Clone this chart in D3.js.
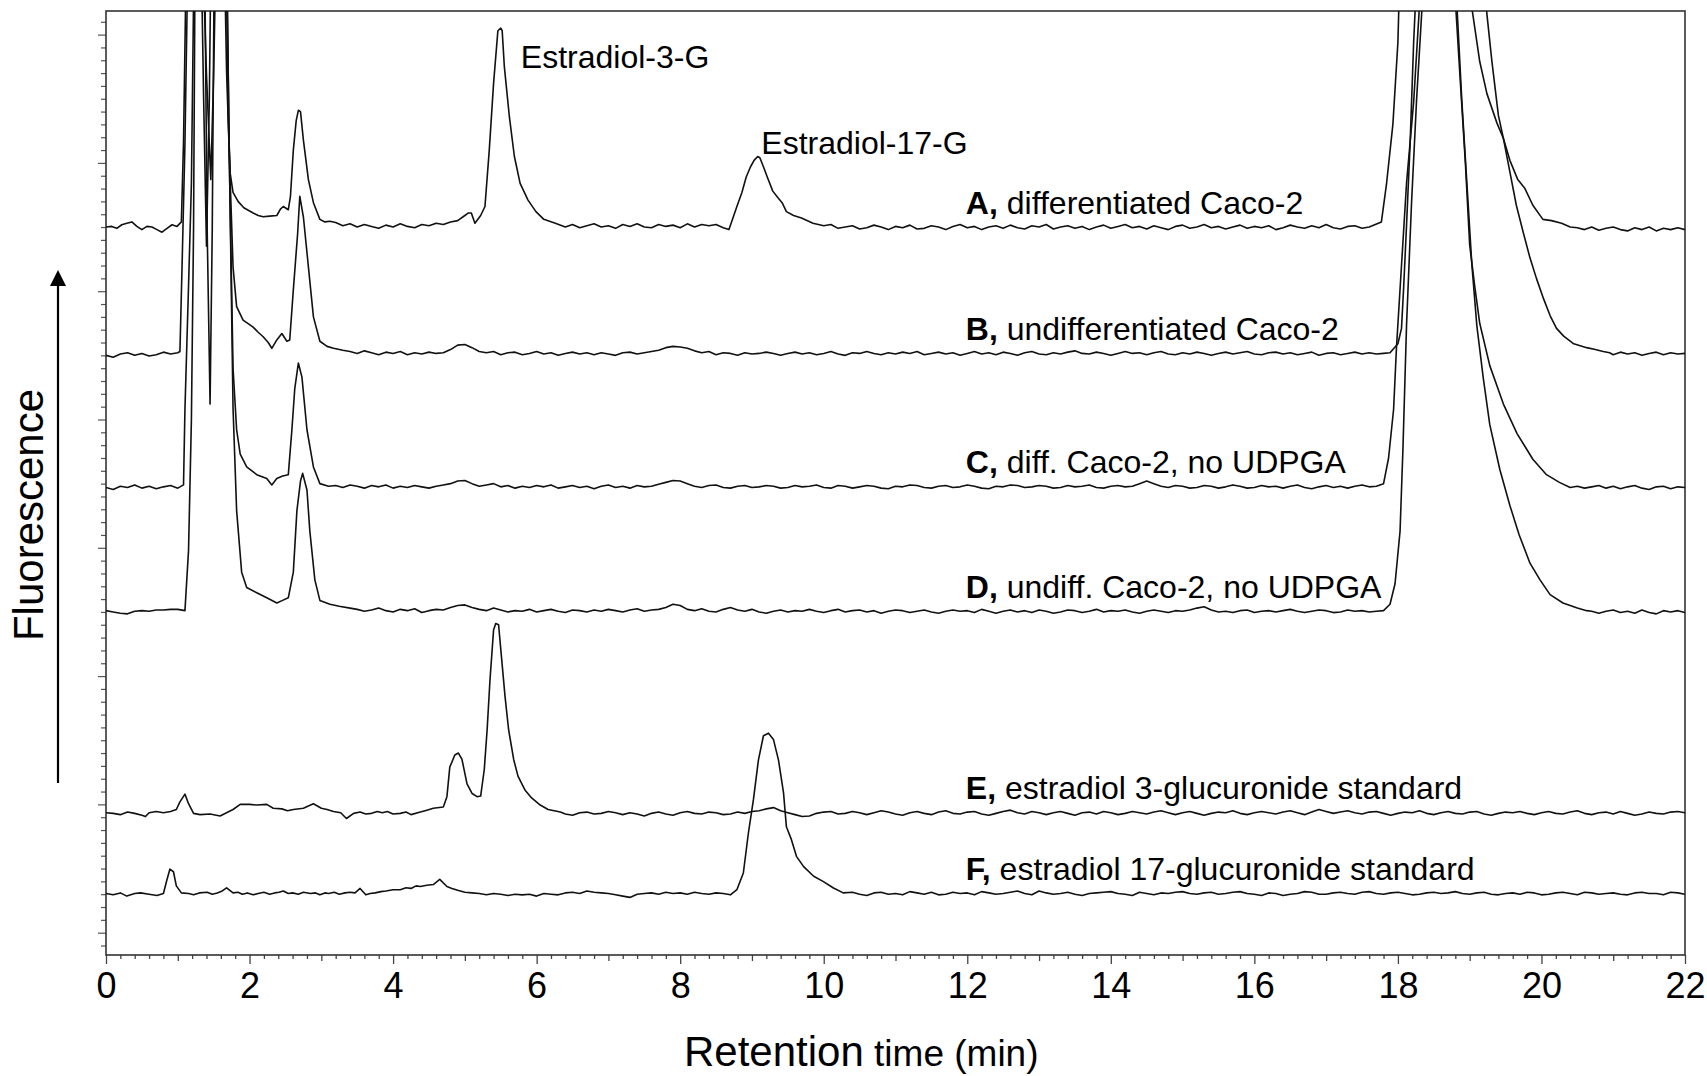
<!DOCTYPE html>
<html>
<head>
<meta charset="utf-8">
<script src="https://cdn.jsdelivr.net/npm/d3@7"></script>
<style>
  html, body { margin: 0; padding: 0; background: #fff; }
  svg { display: block; }
  text { font-family: "Liberation Sans", Arial, sans-serif; fill: #000; }
</style>
</head>
<body>
<div id="chart"></div>
<script>
// retention time (min), signal above the trace's own baseline (arbitrary fluorescence units)
const traceA = [[0,0.1],[0.08,0.15],[0.15,0],[0.22,0.28],[0.29,0.4],[0.36,0.5],[0.43,0.15],[0.5,-0.1],[0.57,0.15],[0.64,0.1],[0.71,-0.1],[0.78,-0.3],[0.85,0],[0.92,0.28],[0.99,0.15],[1.05,0.5],
  [1.08,6.7],[1.11,18],[1.15,30],[1.3,30],[1.4,12],[1.46,3.8],[1.5,12],[1.56,30],[1.66,30],[1.7,9],[1.73,4.3],[1.77,2.8],[1.84,2.1],[1.92,1.6],[2.05,1.2],[2.12,1.0],[2.19,0.9],[2.28,0.95],[2.38,1.0],[2.43,1.5],[2.47,1.7],[2.54,1.45],[2.57,2.5],[2.61,6.1],[2.65,8.4],[2.68,9.2],[2.71,9.1],[2.75,6.9],[2.82,3.8],[2.89,2.0],[2.98,0.7],[3.05,0.5],[3.12,0.55],
  [3.2,0.45],[3.3,0.2],[3.4,0.35],[3.5,0.1],[3.6,0.3],[3.7,0.15],[3.8,0],[3.9,0.25],[4.0,0.1],[4.1,0.35],[4.2,0.15],[4.3,0.05],[4.4,0.3],[4.5,0.2],[4.6,0.4],[4.7,0.3],[4.8,0.5],[4.9,0.6],
  [5.0,1.0],[5.05,1.2],[5.09,1.2],[5.14,0.4],[5.22,1.0],[5.28,1.7],[5.34,6.1],[5.4,11.3],[5.46,15.4],[5.5,15.6],[5.52,15.4],[5.55,12.6],[5.62,8.7],[5.69,5.6],[5.77,3.5],[5.88,2.2],[5.99,1.3],[6.1,0.7],[6.26,0.4],
  [6.4,0.1],[6.5,0.3],[6.6,0.05],[6.7,0.2],[6.8,0.35],[6.9,0.1],[7.0,0.2],[7.1,0],[7.2,0.3],[7.3,0.15],[7.4,0.35],[7.5,0.1],[7.6,0.05],[7.7,0.3],[7.8,0.15],[7.9,0.25],[8.0,0.05],[8.1,0.35],[8.2,0.1],[8.3,0.3],[8.4,0.2],[8.5,0.3],[8.6,0.05],[8.68,-0.1],
  [8.79,1.7],[8.86,2.8],[8.92,4.0],[8.98,4.8],[9.03,5.3],[9.08,5.6],[9.11,5.5],[9.16,4.8],[9.22,3.9],[9.29,2.9],[9.36,2.4],[9.42,2.0],[9.48,1.3],[9.58,1.0],[9.69,0.8],[9.85,0.4],[10.0,0.2],[10.1,0.3],[10.2,0],
  [10.3,0.1],[10.4,0.2],[10.5,-0.05],[10.6,0.05],[10.7,0.25],[10.8,0.1],[10.9,-0.1],[11.0,0.15],[11.1,0.05],[11.2,0.25],[11.3,-0.05],[11.4,0],[11.5,0.2],[11.6,0.1],[11.7,-0.1],[11.8,0.15],[11.9,0.3],[12.0,0.05],[12.1,0.15],[12.2,-0.1],[12.3,0.1],[12.4,0.2],[12.5,0],[12.6,0.25],[12.7,0.05],[12.8,-0.05],[12.9,0.2],[13.0,0.1],[13.1,0.3],[13.2,-0.05],[13.3,0.1],[13.4,0.2],[13.5,0],[13.6,0.15],[13.7,-0.1],[13.8,0.1],[13.9,0.25],[14.0,0],[14.1,0.15],[14.2,0.3],[14.3,0.05],[14.4,0.15],[14.5,-0.05],[14.6,0.2],[14.7,0.05],[14.8,-0.1],[14.9,0.15],[15.0,0.25],[15.1,0],[15.2,0.1],[15.3,0.3],[15.4,0.05],[15.5,0.15],[15.6,-0.05],[15.7,0.1],[15.8,0.25],[15.9,0],[16.0,0.15],[16.1,0.05],[16.2,0.2],[16.3,-0.1],[16.4,0.05],[16.5,0.25],[16.6,0.1],[16.7,0],[16.8,0.2],[16.9,0.05],[17.0,0.3],[17.1,0.05],[17.2,-0.05],[17.3,0.15],[17.4,0.2],[17.5,0],[17.6,0.1],
  [17.77,0.5],[17.84,3.4],[17.93,8.1],[18.0,14.5],[18.05,25],[18.1,30],[18.9,30],[19.0,19],[19.03,17.2],[19.14,13.0],[19.24,10.5],[19.38,8.2],[19.47,7.0],[19.56,5.3],[19.67,3.8],[19.77,3.1],[19.88,1.8],[20.02,0.7],[20.14,0.6],[20.28,0.4],[20.4,0.1],
  [20.5,0.05],[20.6,-0.1],[20.7,0.1],[20.8,-0.15],[20.9,0],[21.0,0.1],[21.1,-0.1],[21.2,-0.2],[21.3,0.05],[21.4,-0.1],[21.5,0.1],[21.6,-0.2],[21.7,0],[21.8,-0.1],[21.9,0.05],[22.0,-0.1]];

const traceB = [[0,-0.1],[0.1,-0.25],[0.2,0],[0.3,0.1],[0.4,-0.1],[0.5,0.05],[0.6,-0.15],[0.7,-0.05],[0.8,0.15],[0.9,0],[1.0,0.1],[1.03,0.2],
  [1.06,6.9],[1.1,16.4],[1.13,27],[1.16,40],[1.3,40],[1.36,20],[1.4,8.4],[1.44,20],[1.48,40],[1.62,40],[1.68,22],[1.73,13.6],[1.77,6.8],[1.82,3.7],[1.91,2.65],[2.05,2.1],[2.12,1.7],[2.19,1.35],[2.26,0.9],[2.31,0.45],[2.38,1.1],[2.45,1.6],[2.52,1.0],[2.56,1.1],[2.61,5.0],[2.67,9.4],[2.7,12.3],[2.75,10.7],[2.82,6.8],[2.89,2.9],[2.98,1.0],[3.08,0.6],[3.17,0.45],[3.3,0.3],
  [3.4,0.2],[3.5,0.05],[3.6,0.25],[3.7,0.1],[3.8,-0.05],[3.9,0.15],[4.0,0.05],[4.1,0.2],[4.2,-0.05],[4.3,0.1],[4.4,0],[4.5,0.15],[4.6,0.05],[4.7,0.1],[4.8,0.35],[4.9,0.7],[5.0,0.75],[5.1,0.5],[5.2,0.2],[5.3,0.1],[5.4,0.2],[5.5,-0.05],[5.6,0.1],[5.7,0.15],[5.8,-0.05],[5.9,0.05],[6.0,0.2],[6.1,0],[6.2,0.1],[6.3,-0.1],[6.4,0.05],[6.5,0.15],[6.6,0],[6.7,0.1],[6.8,-0.05],[6.9,0.1],[7.0,0],[7.1,-0.1],[7.2,0.1],[7.3,0.15],[7.4,0],[7.5,0.1],[7.6,0.2],[7.7,0.3],[7.8,0.5],[7.9,0.6],[8.0,0.55],[8.1,0.45],[8.2,0.25],[8.3,0.1],[8.4,0.2],[8.5,-0.05],[8.6,0.1],[8.7,0.05],[8.8,-0.1],[8.9,0.1],[9.0,0],[9.1,0.05],[9.2,0.15],[9.3,0.05],[9.4,-0.1],[9.5,0.05],[9.6,0.15],[9.7,0],[9.8,0.1],[9.9,-0.05],
  [10.0,0.05],[10.1,0.2],[10.2,0],[10.3,-0.1],[10.4,0.1],[10.5,0.05],[10.6,0.2],[10.7,0.05],[10.8,-0.05],[10.9,0.1],[11.0,0],[11.1,0.15],[11.2,0.05],[11.3,0.2],[11.4,-0.05],[11.5,0.05],[11.6,0.15],[11.7,0],[11.8,0.1],[11.9,-0.1],[12.0,0.05],[12.1,0.2],[12.2,0],[12.3,0.1],[12.4,-0.05],[12.5,0.15],[12.6,0.05],[12.7,-0.1],[12.8,0.1],[12.9,0.2],[13.0,0],[13.1,-0.05],[13.2,0.1],[13.3,0],[13.4,0.15],[13.5,0.25],[13.6,0.05],[13.7,0],[13.8,0.15],[13.9,0.05],[14.0,-0.1],[14.1,0.05],[14.2,0.2],[14.3,0.05],[14.4,0.1],[14.5,-0.05],[14.6,0.1],[14.7,0.2],[14.8,0],[14.9,-0.05],[15.0,0.1],[15.1,0],[15.2,0.15],[15.3,0.05],[15.4,-0.1],[15.5,0.05],[15.6,0.15],[15.7,0],[15.8,0.1],[15.9,0.2],[16.0,0],[16.1,-0.05],[16.2,0.1],[16.3,0.15],[16.4,0],[16.5,0.1],[16.6,-0.05],[16.7,0.05],[16.8,0.15],[16.9,-0.1],[17.0,0.05],[17.1,0.1],[17.2,-0.05],[17.3,0.05],[17.4,0.15],[17.5,0],[17.6,0.1],[17.7,0],[17.8,0.05],[17.89,0.1],
  [18.0,0.8],[18.05,2.0],[18.08,5.2],[18.12,10.0],[18.17,16.4],[18.22,24.4],[18.25,28],[18.3,40],[19.1,40],[19.2,29],[19.24,26.5],[19.31,22.8],[19.4,18.6],[19.47,16.8],[19.56,14.2],[19.65,11.6],[19.75,9.4],[19.84,7.5],[19.93,5.9],[20.03,4.3],[20.12,3.0],[20.21,2.0],[20.31,1.4],[20.45,0.8],[20.63,0.5],[20.75,0.35],[20.86,0.2],
  [20.95,0.1],[21.0,-0.05],[21.1,0.15],[21.2,0],[21.3,0.1],[21.4,-0.1],[21.5,0.05],[21.6,0.15],[21.7,-0.05],[21.8,0.1],[21.9,0],[22.0,0.05]];

const traceC = [[0,0],[0.1,-0.15],[0.2,0.1],[0.3,0],[0.4,0.2],[0.5,-0.05],[0.6,0.1],[0.7,-0.1],[0.8,0.05],[0.9,0.15],[1.0,-0.05],[1.08,0.2],
  [1.1,6.1],[1.15,15.7],[1.19,23.7],[1.22,38],[1.25,50],[1.36,50],[1.41,20],[1.45,6.5],[1.48,20],[1.52,50],[1.66,50],[1.72,25],[1.77,9.3],[1.82,4.5],[1.87,2.6],[1.96,1.6],[2.1,1.0],[2.24,0.7],[2.31,0.2],[2.38,0.7],[2.46,0.9],[2.54,1.0],[2.59,4.5],[2.63,7.7],[2.68,9.7],[2.73,8.6],[2.8,4.5],[2.89,1.6],[2.98,0.3],[3.1,0.1],
  [3.2,0.15],[3.3,0],[3.4,0.2],[3.5,0.1],[3.6,-0.05],[3.7,0.15],[3.8,0.05],[3.9,0.2],[4.0,-0.05],[4.1,0.1],[4.2,0],[4.3,0.15],[4.4,0.05],[4.5,-0.05],[4.6,0.1],[4.7,0.2],[4.8,0.3],[4.9,0.5],[5.0,0.55],[5.1,0.3],[5.2,0.1],[5.3,0.2],[5.4,0.3],[5.5,0.05],[5.6,0.15],[5.7,-0.05],[5.8,0.1],[5.9,0],[6.0,0.15],[6.1,0.05],[6.2,0.2],[6.3,-0.05],[6.4,0.05],[6.5,0.15],[6.6,0],[6.7,0.1],[6.8,-0.1],[6.9,0.1],[7.0,0.2],[7.1,0],[7.2,0.1],[7.3,-0.05],[7.4,0.15],[7.5,0.05],[7.6,0.1],[7.7,0.25],[7.8,0.4],[7.9,0.55],[8.0,0.5],[8.1,0.3],[8.2,0.1],[8.3,0],[8.4,0.15],[8.5,0.2],[8.6,0],[8.7,-0.05],[8.8,0.1],[8.9,0.15],[9.0,0],[9.1,0.05],[9.2,0.15],[9.3,0.1],[9.4,-0.05],[9.5,0],[9.6,0.15],[9.7,0.05],[9.8,0.1],[9.9,0.2],
  [10.0,0],[10.1,-0.05],[10.2,0.15],[10.3,0.1],[10.4,-0.05],[10.5,0.05],[10.6,0.15],[10.7,0.1],[10.8,-0.05],[10.9,-0.1],[11.0,0.1],[11.1,0.05],[11.2,0.2],[11.3,0.15],[11.4,0],[11.5,-0.05],[11.6,0.1],[11.7,0.15],[11.8,0],[11.9,0.05],[12.0,0.2],[12.1,0.1],[12.2,-0.05],[12.3,-0.1],[12.4,0.1],[12.5,0.05],[12.6,0.2],[12.7,0.15],[12.8,0],[12.9,0.05],[13.0,0.15],[13.1,0.1],[13.2,-0.05],[13.3,0],[13.4,0.15],[13.5,0.05],[13.6,0.1],[13.7,0.2],[13.8,0],[13.9,-0.05],[14.0,0.1],[14.1,0.15],[14.2,0.05],[14.3,0.1],[14.4,0.3],[14.5,0.5],[14.6,0.3],[14.7,0.1],[14.8,0],[14.9,0.15],[15.0,0.1],[15.1,-0.05],[15.2,0],[15.3,0.15],[15.4,0.1],[15.5,-0.05],[15.6,0.05],[15.7,0.2],[15.8,0.1],[15.9,-0.05],[16.0,0],[16.1,0.15],[16.2,0.05],[16.3,0.1],[16.4,-0.05],[16.5,0.1],[16.6,0.2],[16.7,0],[16.8,-0.1],[16.9,0.05],[17.0,0.15],[17.1,0],[17.2,0.1],[17.3,-0.05],[17.4,0.1],[17.5,0.2],[17.6,0.05],[17.7,0.1],[17.8,0.3],
  [17.87,2.3],[17.94,6.1],[17.98,10.9],[18.05,17.3],[18.12,23.7],[18.22,30.1],[18.3,37.5],[18.35,50],[18.75,50],[18.8,38],[18.87,31.6],[18.94,25.3],[19.0,18.9],[19.07,15.7],[19.14,12.8],[19.28,9.5],[19.47,6.5],[19.66,4.2],[19.88,2.2],[20.07,1.0],[20.25,0.4],
  [20.4,0],[20.5,0.1],[20.6,-0.05],[20.7,0.05],[20.8,0.15],[20.9,-0.05],[21.0,0.1],[21.1,-0.1],[21.2,0.05],[21.3,0.15],[21.4,-0.05],[21.5,-0.15],[21.6,0.05],[21.7,0.1],[21.8,-0.1],[21.9,0.05],[22.0,0]];

const traceD = [[0,0.1],[0.1,0],[0.2,-0.1],[0.3,-0.15],[0.4,0.05],[0.5,0.1],[0.6,0.05],[0.7,0.15],[0.8,0.15],[0.9,0.2],[1.0,0.2],[1.1,0.1],
  [1.15,4.8],[1.19,15],[1.22,30],[1.25,60],[1.66,60],[1.72,35],[1.77,15.9],[1.82,7.9],[1.89,3.1],[1.96,1.9],[2.1,1.5],[2.24,1.1],[2.38,0.7],[2.46,0.9],[2.54,1.1],[2.61,3.1],[2.66,7.9],[2.71,10.2],[2.74,10.8],[2.8,9.5],[2.84,6.3],[2.91,2.5],[2.98,0.9],[3.12,0.6],[3.25,0.45],[3.4,0.3],
  [3.5,0.2],[3.6,0.05],[3.7,0.15],[3.8,0.3],[3.9,0.1],[4.0,0],[4.1,0.2],[4.2,0.1],[4.3,0.25],[4.4,-0.05],[4.5,0.1],[4.6,0.2],[4.7,0.15],[4.8,0.35],[4.9,0.5],[5.0,0.55],[5.1,0.35],[5.2,0.2],[5.3,0.1],[5.4,0.3],[5.5,0.15],[5.6,0],[5.7,0.1],[5.8,0.05],[5.9,0.2],[6.0,0],[6.1,0.1],[6.2,0.2],[6.3,0.05],[6.4,-0.05],[6.5,0.15],[6.6,0.1],[6.7,0],[6.8,0.15],[6.9,0.05],[7.0,0.2],[7.1,0.1],[7.2,0],[7.3,0.15],[7.4,0.25],[7.5,0.05],[7.6,0.15],[7.7,0.2],[7.8,0.35],[7.9,0.6],[8.0,0.5],[8.1,0.2],[8.2,0.1],[8.3,0.25],[8.4,0.05],[8.5,0],[8.6,0.2],[8.7,0.35],[8.8,0.15],[8.9,0.05],[9.0,0.2],[9.1,0],[9.2,-0.1],[9.3,0.05],[9.4,0.15],[9.5,0],[9.6,0.1],[9.7,0.05],[9.8,0.2],[9.9,0.05],
  [10.0,-0.05],[10.1,0.1],[10.2,0.2],[10.3,0],[10.4,0.1],[10.5,0.15],[10.6,0],[10.7,0.1],[10.8,-0.1],[10.9,0.05],[11.0,0.15],[11.1,0.1],[11.2,-0.05],[11.3,0.05],[11.4,0.15],[11.5,0],[11.6,-0.1],[11.7,0.05],[11.8,0.15],[11.9,0.05],[12.0,0.1],[12.1,-0.05],[12.2,0.2],[12.3,0.05],[12.4,-0.1],[12.5,0.05],[12.6,0.15],[12.7,0],[12.8,0.1],[12.9,-0.05],[13.0,0.15],[13.1,0.05],[13.2,-0.1],[13.3,0],[13.4,0.15],[13.5,0.1],[13.6,-0.05],[13.7,0.05],[13.8,0.2],[13.9,0],[14.0,0.1],[14.1,0.05],[14.2,0.15],[14.3,0],[14.4,-0.1],[14.5,0.05],[14.6,0.15],[14.7,0.05],[14.8,-0.05],[14.9,0.1],[15.0,0.05],[15.1,0.15],[15.2,0.3],[15.3,0.4],[15.4,0.15],[15.5,0],[15.6,0.05],[15.7,-0.05],[15.8,0.1],[15.9,0.15],[16.0,-0.05],[16.1,0.05],[16.2,0.1],[16.3,0],[16.4,0.1],[16.5,0.2],[16.6,0.05],[16.7,-0.05],[16.8,0.05],[16.9,0.15],[17.0,0.1],[17.1,-0.05],[17.2,0],[17.3,0.15],[17.4,0.05],[17.5,0.1],[17.6,0],[17.7,0.05],[17.8,0.1],
  [17.89,0.6],[17.96,2.2],[18.03,6.3],[18.07,12.7],[18.12,22.3],[18.19,31.9],[18.26,39.9],[18.34,47.5],[18.38,60],[18.78,60],[18.82,47.5],[18.89,39.9],[18.96,33.5],[19.03,27.1],[19.1,22.3],[19.19,18.2],[19.28,14.6],[19.42,11.1],[19.56,8.3],[19.69,6.0],[19.84,3.8],[19.98,2.5],[20.12,1.35],[20.3,0.7],[20.5,0.3],[20.63,0.1],
  [20.7,0.05],[20.8,-0.1],[20.9,0.05],[21.0,0.15],[21.1,-0.05],[21.2,0.05],[21.3,-0.1],[21.4,0.15],[21.5,-0.05],[21.6,-0.15],[21.7,0.1],[21.8,0],[21.9,0.1],[22.0,-0.05]];

const traceE = [[0,0.05],[0.1,0],[0.2,-0.1],[0.3,0.1],[0.4,0],[0.5,-0.15],[0.55,-0.25],[0.6,0.05],[0.7,0.15],[0.8,0.05],[0.9,0.15],[0.98,0.3],[1.03,0.9],[1.1,1.5],[1.15,0.75],[1.22,0],[1.31,-0.1],[1.45,-0.05],[1.59,-0.2],[1.7,0.1],[1.77,0.3],[1.87,0.7],[2.0,0.7],[2.1,0.65],[2.24,0.7],[2.33,0.4],[2.45,0.35],[2.53,0.2],[2.61,0.3],[2.75,0.4],[2.89,0.75],[3.0,0.4],[3.08,0.3],[3.17,0.15],[3.27,0.05],[3.35,-0.4],[3.45,0],[3.54,0.1],[3.62,-0.05],[3.7,0],[3.78,0.15],[3.85,0.05],[3.92,0.15],[4.0,-0.05],[4.1,0],[4.18,0.1],[4.25,-0.1],[4.38,0.1],[4.47,0.25],[4.56,0.4],[4.7,0.5],
  [4.75,1.3],[4.79,3.6],[4.86,4.55],[4.91,4.7],[4.96,4.2],[5.03,2.3],[5.1,1.55],[5.17,1.3],[5.22,1.35],[5.27,3.4],[5.31,6.5],[5.35,10.4],[5.4,14.3],[5.43,14.8],[5.47,14.7],[5.51,12.2],[5.56,9.1],[5.61,6.5],[5.68,4.2],[5.74,2.9],[5.84,1.8],[5.93,1.2],[6.05,0.65],[6.16,0.3],[6.33,0.1],
  [6.4,-0.05],[6.5,-0.15],[6.6,0.05],[6.7,0.1],[6.8,-0.05],[6.9,0],[7.0,0.15],[7.1,0.05],[7.2,-0.1],[7.3,0.05],[7.4,-0.05],[7.5,-0.2],[7.6,0],[7.7,0.1],[7.8,-0.05],[7.9,-0.15],[8.0,0.05],[8.1,0.15],[8.2,0],[8.3,-0.05],[8.4,0.1],[8.5,0.05],[8.6,-0.1],[8.7,-0.05],[8.8,0.1],[8.9,0],[9.0,0.15],[9.1,0.2],[9.2,0.35],[9.3,0.45],[9.4,0.2],[9.5,0.05],[9.6,-0.1],[9.7,-0.25],[9.8,-0.2],[9.9,0],
  [10.0,0.1],[10.1,0.15],[10.2,-0.05],[10.3,0],[10.4,0.15],[10.5,0.05],[10.6,-0.1],[10.7,0.05],[10.8,0.2],[10.9,0.1],[11.0,-0.05],[11.1,-0.15],[11.2,0.05],[11.3,0.15],[11.4,0],[11.5,-0.1],[11.6,0.1],[11.7,0.2],[11.8,0],[11.9,-0.05],[12.0,0.1],[12.1,0.15],[12.2,-0.05],[12.3,-0.15],[12.4,0],[12.5,0.15],[12.6,0.25],[12.7,0.05],[12.8,-0.05],[12.9,0.15],[13.0,0.05],[13.1,-0.1],[13.2,0.05],[13.3,0.15],[13.4,0],[13.5,-0.15],[13.6,0.05],[13.7,0.1],[13.8,-0.05],[13.9,0.15],[14.0,0.05],[14.1,-0.1],[14.2,0],[14.3,0.15],[14.4,0.05],[14.5,-0.05],[14.6,0.1],[14.7,0.2],[14.8,0.05],[14.9,-0.1],[15.0,0.05],[15.1,0.15],[15.2,0],[15.3,-0.15],[15.4,0],[15.5,0.1],[15.6,0.05],[15.7,0.2],[15.8,0],[15.9,-0.1],
  [16.0,0.05],[16.1,0.15],[16.2,0.05],[16.3,-0.05],[16.4,0.1],[16.5,0.2],[16.6,0.05],[16.7,-0.1],[16.8,0.1],[16.9,0.3],[17.0,0.15],[17.1,0],[17.2,0.1],[17.3,0.2],[17.4,0.05],[17.5,-0.05],[17.6,0.1],[17.7,0.15],[17.8,0],[17.9,-0.15],[18.0,0],[18.1,0.1],[18.2,0.05],[18.3,0.2],[18.4,0],[18.5,-0.1],[18.6,0.05],[18.7,0.15],[18.8,0],[18.9,-0.05],[19.0,0.1],[19.1,0.15],[19.2,-0.05],[19.3,-0.15],[19.4,0],[19.5,0.1],[19.6,0.05],[19.7,0.15],[19.8,0],[19.9,-0.1],
  [20.0,0.05],[20.1,0.15],[20.2,0],[20.3,-0.05],[20.4,0.1],[20.5,0.2],[20.6,0],[20.7,-0.1],[20.8,0.05],[20.9,0.1],[21.0,-0.05],[21.1,0.15],[21.2,0],[21.3,-0.15],[21.4,-0.05],[21.5,0.1],[21.6,0],[21.7,-0.05],[21.8,0.1],[21.9,0.15],[22.0,0.05]];

const traceF = [[0,0],[0.1,-0.1],[0.2,0.05],[0.29,-0.2],[0.4,0],[0.48,0.05],[0.6,-0.05],[0.71,-0.15],[0.8,0],[0.85,1.1],[0.89,1.9],[0.94,1.7],[0.98,0.6],[1.05,0.05],[1.15,0],[1.22,-0.1],[1.3,0.05],[1.41,0.1],[1.48,-0.05],[1.55,0.05],[1.62,0.2],[1.68,0.45],[1.77,0.05],[1.84,0.1],[1.9,-0.05],[1.97,0.05],[2.05,-0.1],[2.12,0],[2.2,0.1],[2.28,-0.05],[2.35,0.05],[2.41,0.1],[2.47,0.2],[2.54,0],[2.6,0.05],[2.68,-0.05],[2.75,0.1],[2.85,0],[2.92,0.05],[2.98,-0.1],
  [3.05,0.05],[3.1,0],[3.18,0.1],[3.25,-0.05],[3.33,0.05],[3.4,0.1],[3.47,0.05],[3.54,0.4],[3.62,-0.1],[3.68,0],[3.75,0.05],[3.83,0.15],[3.9,0.2],[4.0,0.3],[4.1,0.3],[4.18,0.45],[4.25,0.4],[4.32,0.6],[4.38,0.55],[4.47,0.65],[4.56,0.7],[4.65,1.1],[4.75,0.55],[4.82,0.4],[4.9,0.25],[5.0,0.1],
  [5.1,0.05],[5.2,0],[5.3,-0.1],[5.4,0],[5.5,-0.05],[5.6,-0.15],[5.7,-0.05],[5.8,-0.1],[5.9,-0.05],[6.0,-0.2],[6.1,0],[6.2,-0.05],[6.3,-0.1],[6.4,0.05],[6.5,0.1],[6.6,0],[6.7,0.2],[6.8,0.1],[6.9,0.05],[7.0,0],[7.1,-0.1],[7.2,-0.2],[7.3,-0.3],[7.4,-0.05],[7.5,0],[7.6,0.05],[7.7,-0.05],[7.8,0.1],[7.9,0],[8.0,0.05],[8.1,-0.05],[8.2,0.1],[8.3,0],[8.4,-0.05],[8.5,0.05],[8.6,0],[8.7,-0.1],
  [8.79,0.3],[8.88,1.6],[8.95,4.7],[9.02,7.3],[9.09,10.4],[9.16,12.3],[9.23,12.5],[9.3,12.0],[9.37,10.4],[9.44,7.85],[9.48,5.2],[9.55,4.2],[9.62,2.9],[9.72,2.1],[9.86,1.35],[9.99,0.95],[10.13,0.45],[10.27,0.05],
  [10.4,0.1],[10.5,-0.05],[10.6,-0.15],[10.7,0.05],[10.8,0.1],[10.9,-0.05],[11.0,0],[11.1,-0.1],[11.2,0.15],[11.3,0.05],[11.4,-0.05],[11.5,0.1],[11.6,-0.1],[11.7,-0.05],[11.8,0.1],[11.9,0],[12.0,0.05],[12.1,-0.1],[12.2,0.15],[12.3,0.05],[12.4,-0.05],[12.5,0],[12.6,0.1],[12.7,0.2],[12.8,0],[12.9,-0.1],[13.0,0.2],[13.1,0.05],[13.2,-0.05],[13.3,0],[13.4,0.1],[13.5,-0.05],[13.6,-0.15],[13.7,0],[13.8,0.05],[13.9,0.1],[14.0,0.15],[14.1,0],[14.2,-0.05],[14.3,-0.15],[14.4,0.1],[14.5,0],[14.6,-0.1],[14.7,0.05],[14.8,0],[14.9,0.1],[15.0,0.15],[15.1,0],[15.2,-0.05],[15.3,0.05],[15.4,0.1],[15.5,-0.05],[15.6,0],[15.7,0.1],[15.8,0.15],[15.9,0],
  [16.0,-0.05],[16.1,-0.15],[16.2,0.05],[16.3,0],[16.4,-0.15],[16.5,-0.05],[16.6,0],[16.7,0.15],[16.8,0.1],[16.9,-0.05],[17.0,-0.05],[17.1,0.05],[17.2,0.1],[17.3,0],[17.4,-0.05],[17.5,0.1],[17.6,0.15],[17.7,0],[17.8,-0.05],[17.9,0.05],[18.0,0.1],[18.1,0],[18.2,-0.1],[18.3,-0.05],[18.4,0.05],[18.5,0.1],[18.6,0],[18.7,0.05],[18.8,0.15],[18.9,0],[19.0,-0.05],[19.1,0.05],[19.2,0.1],[19.3,-0.05],[19.4,-0.1],[19.5,0],[19.6,0.05],[19.7,-0.05],[19.8,0.1],[19.9,0.05],
  [20.0,-0.1],[20.1,-0.05],[20.2,0.05],[20.3,0.1],[20.4,0],[20.5,-0.1],[20.6,0.1],[20.7,0.05],[20.8,-0.05],[20.9,0],[21.0,0.05],[21.1,-0.05],[21.2,-0.1],[21.3,0.05],[21.4,0.1],[21.5,0],[21.6,0],[21.7,-0.1],[21.8,0.1],[21.9,0.05],[22.0,-0.05]];

const traces = [traceA, traceB, traceC, traceD, traceE, traceF];
const traceOffsets = [54.9, 45.1, 34.7, 25.0, 9.3, 3.05];
const traceKeys = ["A,", "B,", "C,", "D,", "E,", "F,"];
const traceLabels = [
  " differentiated Caco-2",
  " undifferentiated Caco-2",
  " diff. Caco-2, no UDPGA",
  " undiff. Caco-2, no UDPGA",
  " estradiol 3-glucuronide standard",
  " estradiol 17-glucuronide standard",
];

const peakNames = ["Estradiol-3-G", "Estradiol-17-G"];
const peakTimes = [5.78, 9.13];
const peakLevels = [67.4, 60.7];

const xTicks = d3.range(0, 111).map((i) => i / 5);
const yTicks = d3.range(-1, 72);

const width = 1707;
const height = 1076;
const margin = { top: 11, right: 22, bottom: 121, left: 106 };

const svg = d3
  .select("#chart")
  .append("svg")
  .attr("width", width)
  .attr("height", height);

const x = d3
  .scaleLinear()
  .domain([0, 22])
  .range([margin.left, width - margin.right]);

const y = d3
  .scaleLinear()
  .domain([-1.74, 71.84])
  .range([height - margin.bottom, margin.top]);

svg.append("defs")
  .append("clipPath")
  .attr("id", "plot-clip")
  .append("rect")
  .attr("x", margin.left)
  .attr("y", margin.top)
  .attr("width", width - margin.left - margin.right)
  .attr("height", height - margin.top - margin.bottom);

// x axis: minor every 0.2, medium each minute, labelled every 2
const isInt = (v) => Math.abs(v - Math.round(v)) < 1e-6;

svg.append("g")
  .attr("transform", `translate(0, ${height - margin.bottom})`)
  .call(
    d3.axisBottom(x)
      .tickValues(xTicks)
      .tickSize(4)
      .tickPadding(0)
      .tickFormat((d) => (isInt(d) && Math.round(d) % 2 === 0 ? Math.round(d) : "")),
  )
  .call((g) => g.select(".domain").remove())
  .call((g) => g.selectAll(".tick line")
    .attr("stroke", "#444")
    .attr("stroke-width", 1.3)
    .attr("y2", (d) => (isInt(d) ? (Math.round(d) % 2 === 0 ? 9 : 6) : 4)))
  .call((g) => g.selectAll(".tick text")
    .attr("font-size", 36)
    .attr("y", 43)
    .attr("dy", 0)
    .attr("fill", "#000"));

svg.append("g")
  .attr("transform", `translate(${margin.left}, 0)`)
  .call(d3.axisLeft(y).tickValues(yTicks).tickSize(5).tickFormat(""))
  .call((g) => g.select(".domain").remove())
  .call((g) => g.selectAll(".tick line")
    .attr("stroke", "#555")
    .attr("stroke-width", 1.2)
    .attr("x2", (d) => (d % 10 === 0 ? -8 : -5)));

// frame
svg.append("rect")
  .attr("x", margin.left)
  .attr("y", margin.top)
  .attr("width", width - margin.left - margin.right)
  .attr("height", height - margin.top - margin.bottom)
  .attr("fill", "none")
  .attr("stroke", "#333")
  .attr("stroke-width", 1.6);

const plot = svg.append("g").attr("clip-path", "url(#plot-clip)");

traces.forEach((trace, i) => {
  const line = d3.line()
    .x((d) => x(d[0]))
    .y((d) => y(d[1] + traceOffsets[i]));

  plot.append("path")
    .datum(trace)
    .attr("fill", "none")
    .attr("stroke", "#111")
    .attr("stroke-width", 1.6)
    .attr("stroke-linejoin", "round")
    .attr("d", line);
});

// trace labels
traceKeys.forEach((key, i) => {
  const label = svg.append("text")
    .attr("x", x(11.98))
    .attr("y", y(traceOffsets[i]) - 14)
    .attr("font-size", 32);
  label.append("tspan").attr("font-weight", "bold").text(key);
  label.append("tspan").text(traceLabels[i]);
});

// peak names
peakNames.forEach((name, i) => {
  svg.append("text")
    .attr("x", x(peakTimes[i]))
    .attr("y", y(peakLevels[i]))
    .attr("font-size", 32)
    .text(name);
});

// axis titles
const xTitle = svg.append("text")
  .attr("x", 684)
  .attr("y", 1066);
xTitle.append("tspan").attr("font-size", 42).text("Retention");
xTitle.append("tspan").attr("font-size", 37).text(" time (min)");

svg.append("text")
  .attr("transform", "translate(43, 515) rotate(-90)")
  .attr("text-anchor", "middle")
  .attr("font-size", 42)
  .text("Fluorescence");

// arrow next to y title
svg.append("line")
  .attr("x1", 58).attr("x2", 58)
  .attr("y1", 783).attr("y2", 282)
  .attr("stroke", "#000")
  .attr("stroke-width", 2.2);

svg.append("path")
  .attr("d", "M50,286 L58,270 L66,286 Z")
  .attr("fill", "#000");
</script>
</body>
</html>
